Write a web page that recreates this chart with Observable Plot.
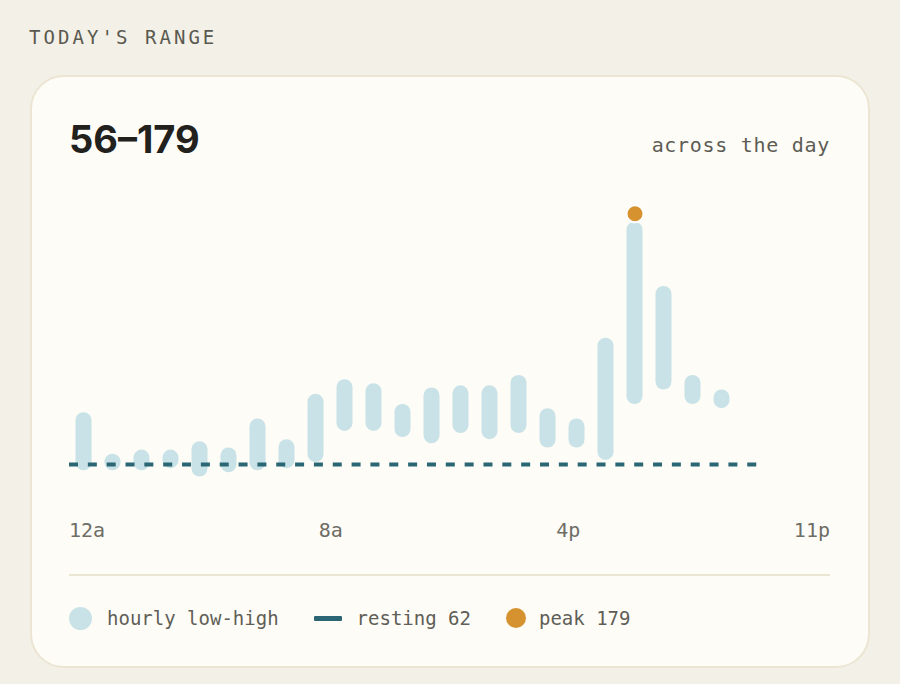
<!DOCTYPE html>
<html>
<head>
<meta charset="utf-8">
<script src="https://cdn.jsdelivr.net/npm/d3@7"></script>
<script src="https://cdn.jsdelivr.net/npm/@observablehq/plot@0.6"></script>
<style>
  html, body { margin: 0; padding: 0; }
  body { width: 900px; height: 684px; background: #f3f0e8; position: relative; overflow: hidden;
         font-family: "DejaVu Sans Mono", monospace; }
  .abs { position: absolute; white-space: nowrap; }
  #eyebrow { left: 29px; top: 28px; font-size: 19px; line-height: 19px; letter-spacing: 3.05px; color: #5a594f; }
  #card { left: 30px; top: 75px; width: 840px; height: 593px; box-sizing: border-box;
          background: #fdfcf6; border: 2px solid #ece5d3; border-radius: 34px; }
  #title { left: 69px; top: 120px; font-family: Inter, "Noto Sans", sans-serif; font-weight: 700;
           font-size: 38px; line-height: 38px; color: #22211d; letter-spacing: 0px; }
  #sub { right: 70px; top: 135px; font-size: 20px; line-height: 20px; letter-spacing: 0.7px; color: #5d5c55; }
  #chart { left: 69px; top: 180px; }
  #ticks { left: 69px; top: 520px; width: 761px; display: flex; justify-content: space-between;
           font-size: 20px; line-height: 20px; color: #6e6d66; }
  #divider { left: 69px; top: 574px; width: 761px; height: 2px; background: #ebe5d4; }
  #legend { left: 69px; top: 608px; height: 20px; display: flex; align-items: center;
            font-size: 19px; line-height: 20px; color: #5f5e57; }
  .item { display: flex; align-items: center; margin-right: 35px; }
  .sw { margin-right: 15px; }
</style>
</head>
<body>
<div id="eyebrow" class="abs">TODAY'S RANGE</div>
<div id="card" class="abs"></div>
<div id="title" class="abs"></div>
<div id="sub" class="abs">across the day</div>
<div id="chart" class="abs"></div>
<div id="ticks" class="abs"></div>
<div id="divider" class="abs"></div>
<div id="legend" class="abs"></div>
<script>
// ---- data ----
const hours = [0,1,2,3,4,5,6,7,8,9,10,11,12,13,14,15,16,17,18,19,20,21,22];
const lows  = [59,59,59,60,56,58,59,60,63,78,78,75,72,77,74,77,70,70,64,91,98,91,89];
const highs = [87,67,69,69,73,70,84,74,96,103,101,91,99,100,100,105,89,84,123,179,148,105,98];
const resting = 62;
const tickLabels = ["12a", "8a", "4p", "11p"];
const legendLabels = ["hourly low-high", "resting", "peak"];

const colors = { bar: "#c9e2e8", rest: "#2a6673", peak: "#d6922e" };

const rows = hours.map((h, i) => ({ hour: h, low: lows[i], high: highs[i] }));
const minLow = d3.min(lows);
const maxHigh = d3.max(highs);
const peakRow = rows.find(r => r.high === maxHigh);

document.getElementById("title").textContent = `${minLow}\u2013${maxHigh}`;

const chart = Plot.plot({
  width: 761,
  height: 310,
  marginLeft: 0,
  marginRight: 65,
  marginTop: 0,
  marginBottom: 0,
  style: { background: "transparent", overflow: "visible" },
  x: { type: "band", domain: d3.range(24), padding: 0, axis: null },
  y: { domain: [50, 185], range: [308.9, 29.3], axis: null },
  marks: [
    Plot.barY(rows, { x: "hour", y1: "low", y2: "high", fill: colors.bar, rx: 8, insetLeft: 6.5, insetRight: 6.5 }),
    Plot.ruleY([resting], { stroke: colors.rest, strokeWidth: 4, strokeDasharray: "9,9.84" }),
    Plot.dot([peakRow], { x: "hour", y: "high", r: 8.5, fill: colors.peak, stroke: "#ffffff", strokeWidth: 2, dy: -8.5 })
  ]
});
document.getElementById("chart").appendChild(chart);

const ticks = document.getElementById("ticks");
tickLabels.forEach(t => { const s = document.createElement("span"); s.textContent = t; ticks.appendChild(s); });

const legend = document.getElementById("legend");
const items = [
  { sw: `<span class="sw" style="width:23px;height:23px;border-radius:50%;background:${colors.bar};display:inline-block"></span>`, text: legendLabels[0] },
  { sw: `<span class="sw" style="width:28px;height:5px;border-radius:1px;background:${colors.rest};display:inline-block;margin-right:15px"></span>`, text: `${legendLabels[1]} ${resting}` },
  { sw: `<span class="sw" style="width:20px;height:20px;border-radius:50%;background:${colors.peak};display:inline-block;margin-right:13px"></span>`, text: `${legendLabels[2]} ${maxHigh}` }
];
items.forEach(it => {
  const d = document.createElement("div");
  d.className = "item";
  d.innerHTML = it.sw + `<span>${it.text}</span>`;
  legend.appendChild(d);
});
</script>
</body>
</html>
